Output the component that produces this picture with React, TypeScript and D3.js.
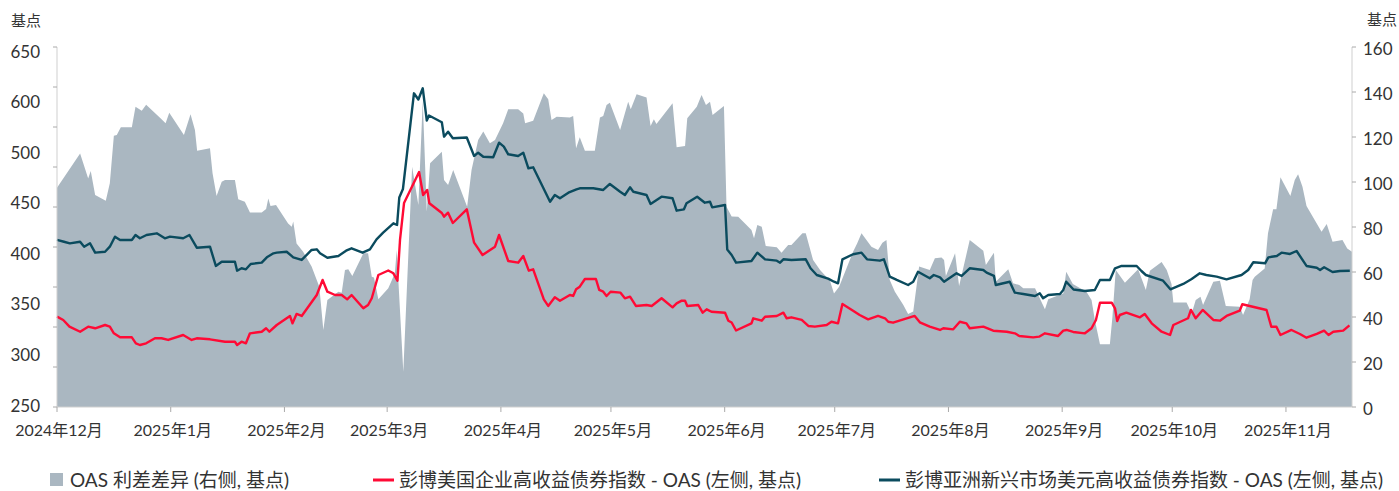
import { useEffect, useRef } from 'react';
import * as d3 from 'd3';

// day offset from 2024-12-01, value
// OAS spread difference (right axis, bp)
const spreadDiff: [number, number][] = [
  [0, 97.5], [6.3, 112.7], [7.6, 106.1], [8.5, 101.6], [9.2, 104.9], [10.4, 94.2], [13.3, 91.7], [14.4, 99.4],
  [15.5, 120.6], [16.3, 120.9], [17.4, 124.3], [20.4, 124.3], [21.4, 133.5], [23.1, 131.7], [24.3, 134.3],
  [28.5, 127.9], [29.6, 126.1], [30.6, 130.8], [34.6, 120.9], [36.4, 130.1], [37.6, 123.1], [38.2, 113.9],
  [41.7, 115], [42.4, 103.9], [43.5, 93.8], [44.9, 100.1], [45.8, 100.9], [48.5, 100.9], [49.4, 92.3],
  [51.2, 91.2], [52.6, 86.5], [55.8, 86.5], [57, 88], [57.6, 92.7], [58.2, 89.3], [59.7, 89.8], [63, 81.6],
  [64, 80.1], [64.4, 82.5], [65.3, 72.7], [67.1, 69], [69.4, 62.4], [71.5, 53.5], [72.6, 34.2], [73.7, 47.6],
  [76.7, 51.2], [77.6, 50.8], [78.5, 60.9], [79.4, 61.2], [80.5, 58.2], [83.5, 68.3], [84.8, 68.3], [85.8, 57.9],
  [86.4, 57.6], [87.6, 47.9], [90.3, 52.8], [92.1, 59.4], [92.6, 69.8], [94.4, 15.7], [96.8, 106.8], [98.5, 89.8],
  [99.7, 136], [100.8, 86.8], [101.7, 108.3], [104.9, 113.5], [105.5, 100.9], [106.6, 98.7], [108, 105.3],
  [111.8, 89], [113, 105.3], [114.8, 118.7], [116.2, 122.4], [118, 117.2], [119.4, 118.7], [121.6, 126.1],
  [123, 132.3], [125.7, 132.3], [127.1, 130.5], [127.6, 126.1], [129.8, 127.2], [132.7, 139.4], [133.9, 136.8],
  [134.8, 127.6], [136.2, 129], [139.8, 128.7], [140.7, 129.3], [141.5, 115], [142.5, 119.9], [143.9, 113.9],
  [146.6, 113.9], [148, 128.7], [148.9, 129.3], [149.8, 134.2], [150.7, 135.2], [153.5, 123.1], [155.7, 135.7],
  [156.4, 132.3], [158, 139], [160.7, 137.6], [161.8, 124.9], [162.7, 127.9], [163.4, 125.8], [167.8, 135],
  [168.9, 115.4], [171.2, 116], [171.8, 128.3], [174.4, 133.5], [175.7, 138.7], [176.9, 134.2], [178, 135.7],
  [178.7, 129.8], [181.8, 133.8], [182.5, 89], [183.9, 84.7], [185.7, 84.6], [189.3, 78.7], [190, 75],
  [190.9, 80.9], [192.1, 80.1], [193.2, 71.6], [196.2, 71], [197.5, 68.6], [199.3, 72], [200.2, 72],
  [203.2, 77.2], [204.1, 77.2], [206.1, 65.3], [208, 60.9], [210.7, 56.1], [211.8, 50.5], [213.2, 53.5],
  [217, 69], [218.1, 72.7], [219.3, 77.2], [222, 71.2], [223.8, 69.8], [225, 73], [226.1, 74.2], [227, 56.4],
  [228.4, 51.2], [230.7, 45.3], [232, 41.3], [233.4, 42.4], [235, 62.4], [237.9, 60.9], [239.3, 66.1],
  [241.1, 66.5], [241.8, 65.3], [242.3, 58.2], [244.8, 68.3], [245.9, 53.8], [248.8, 74.2], [252.5, 69.5],
  [253.2, 63.1], [255.4, 68.6], [255.9, 55.7], [259.3, 61.2], [260.6, 55], [262.3, 54.2], [263.4, 52.8],
  [266.6, 52.8], [269.3, 43.4], [270.2, 47.9], [274.3, 50.5], [275.1, 60.1], [276.9, 54.7], [280.6, 51.2],
  [282, 47.6], [282.9, 38.7], [284.3, 27.9], [287, 27.9], [287.7, 40.1], [288.6, 60.9], [291.1, 55.2],
  [294.7, 61.2], [296.8, 52], [297.9, 60.6], [301.1, 64.4], [302.5, 60.9], [303.8, 54.7], [304.3, 46.4],
  [307.9, 46.4], [309.3, 41.6], [310.4, 47.6], [311.7, 49], [312.4, 45.3], [315.2, 55.7], [317, 56.1],
  [317.9, 49.8], [318.6, 44.9], [322.4, 44.6], [323.3, 40.9], [325.1, 47.9], [325.9, 56.4], [326.5, 57.9],
  [329.2, 61.6], [330.1, 77.2], [331.5, 87.9], [332.4, 87.9], [333.5, 102.1], [336.2, 93.8], [337.4, 100.9],
  [338.3, 103.4], [339.5, 97.9], [340.6, 89.3], [344.7, 77.9], [346.1, 81.3], [347.7, 73.5], [350.4, 74.2],
  [351.7, 70.5], [353, 69],
];

// Bloomberg US corporate HY index OAS (left axis)
const usHyOas: [number, number][] = [
  [0, 362.9], [1.7, 358.8], [3.4, 350.4], [6.3, 344.1], [8.5, 350.4], [10.4, 348.4], [13.1, 352.5], [14.4, 350.4],
  [15.5, 342.1], [17.2, 337.1], [20.4, 337.1], [21.5, 329.6], [22.6, 327.5], [24.3, 329.6], [26.7, 335.9],
  [28.5, 335.9], [30.3, 333.8], [34.4, 340], [36.7, 333.8], [38.1, 335.9], [41.7, 334.6], [45.8, 331.6],
  [48.5, 331.6], [49.1, 327.5], [50.3, 331.6], [51.5, 329.6], [52.6, 342.1], [55.8, 344.1], [57, 348.4],
  [57.9, 344.1], [59.9, 352.5], [63.5, 363.8], [64.2, 354.6], [65.3, 366.3], [66.7, 363.8], [70.8, 390],
  [72.4, 408.8], [73.7, 394.1], [75.8, 390], [77.6, 390], [79.1, 384.6], [80.3, 390], [83.5, 373.4],
  [84.8, 377.5], [85.8, 385.9], [87.6, 415], [90.3, 420.6], [91.7, 417.1], [92.8, 407.9], [93.5, 458.8],
  [94.6, 505], [98.7, 543.8], [99.8, 515], [100.9, 521.3], [101.5, 504.6], [104.9, 492.5], [105.5, 487.9],
  [106.6, 492.9], [107.9, 480], [111.7, 497.1], [113.7, 455.4], [116, 440], [119.4, 450.4], [120.5, 465],
  [123, 432.5], [125.7, 430.4], [127.1, 438.8], [128.6, 420.4], [129.8, 422.1], [132.7, 384.6], [133.9, 376.3],
  [135.7, 387.1], [137.1, 382.9], [139.8, 390], [140.7, 388.8], [141.5, 397.1], [142.5, 400.4], [143.9, 410],
  [146.9, 410], [147.8, 396.3], [148.9, 394.1], [149.8, 388.8], [150.9, 394.1], [153.6, 392.9], [154.8, 385.9],
  [156.2, 387.9], [157.8, 376.3], [160.7, 377.5], [162.1, 376.3], [164.8, 385.9], [167.8, 374.6], [168.9, 379.6],
  [170.3, 382.9], [171.2, 382.9], [171.8, 376.3], [174.8, 377.5], [176, 367.9], [177.1, 372.1], [178.4, 369.1],
  [182.1, 367.9], [183, 357.9], [183.9, 355.6], [185.1, 345.6], [189.3, 354.6], [189.8, 360.9], [192.1, 357.9],
  [193, 362.9], [196.2, 363.8], [198, 367.9], [198.9, 360.9], [200.2, 362.1], [203, 358.8], [204.8, 351.3],
  [206.6, 350.4], [209.8, 352.5], [211.1, 356.6], [212.9, 354.6], [214.1, 378.8], [217, 370.4], [218.8, 365],
  [221.1, 359.6], [223.8, 363.8], [225.7, 360.9], [226.6, 356.6], [227.9, 355.4], [233.8, 363.8], [235.2, 355.9],
  [237.9, 350.4], [240.7, 346.3], [241.6, 348.4], [244.3, 347.1], [246.1, 356.6], [247.9, 354.6], [248.8, 348.4],
  [252.5, 350.4], [255.2, 345.4], [258.9, 344.1], [261.1, 342.1], [262.3, 338.8], [266.1, 337.1], [267.7, 337.9],
  [269.3, 342.1], [272.9, 338.8], [274.3, 345.4], [275.2, 346.3], [277, 343.8], [280.2, 342.1], [282, 348.4],
  [283.2, 358.8], [284.3, 380.4], [287.5, 380.4], [288.4, 373.4], [289, 357.5], [289.7, 365], [291.5, 367.9],
  [295.2, 362.1], [296.5, 366.3], [298.4, 354.6], [301.1, 344.1], [303.4, 340], [304.3, 352.5], [308.3, 360.9],
  [309.1, 371.3], [310.4, 360.9], [312.3, 371.3], [315.2, 358.8], [317, 357.9], [318.8, 363.8], [322.4, 370.4],
  [323.1, 378.4], [325.1, 376.3], [329.7, 371.3], [331, 350.4], [332.4, 350.4], [333.5, 340], [336.5, 346.3],
  [338.8, 341.3], [340.6, 336.6], [343.4, 341.3], [345.4, 345.4], [346.6, 340], [347.9, 344.1], [350.6, 345.4],
  [352.3, 352.1],
];

// Bloomberg Asia EM USD HY index OAS (left axis)
const asiaHyOas: [number, number][] = [
  [0, 458.8], [1.9, 456.6], [3.5, 454.6], [6.3, 456.6], [7.4, 450.4], [9, 454.6], [10.4, 442.9], [13.1, 444.1],
  [14.4, 450.4], [15.8, 462.9], [17.2, 458.8], [20.4, 458.8], [21.4, 465], [22.6, 460.9], [24.4, 465],
  [27.2, 467.1], [29.4, 460.9], [30.8, 462.9], [34.4, 460.9], [36.1, 465], [38.1, 449.1], [41.7, 450.4],
  [43.3, 426.3], [44.9, 431.6], [48.5, 431.6], [49.1, 420.4], [50.3, 423.4], [51.5, 422.1], [52.8, 428.8],
  [55.8, 430.4], [57.2, 437.1], [59, 442.1], [59.9, 442.9], [62.6, 444.1], [64.4, 437.1], [66.7, 433.8],
  [69.4, 446.3], [70.8, 447.1], [71.7, 442.1], [73.7, 436.6], [76.7, 438.8], [78.8, 445.4], [80.3, 448.4],
  [83.3, 442.9], [85.3, 447.1], [87.1, 459.6], [88.9, 467.9], [91.7, 479.6], [92.7, 477.5], [93.3, 511.9],
  [94.3, 522.5], [97.3, 642.1], [98.5, 634.4], [99.7, 648.4], [100.8, 608.1], [101.4, 614.4], [104.9, 606],
  [105.5, 587.9], [106.6, 594.1], [107.9, 585.9], [111.7, 586.9], [113.7, 563.8], [114.8, 567.9], [116.2, 562.9],
  [118.9, 562.1], [120.5, 580.4], [121.8, 575.4], [123, 565.9], [125.7, 563.8], [127.1, 567.9], [128.5, 548.4],
  [129.8, 549.6], [134.4, 506.6], [135.7, 515], [137.1, 510.9], [139.4, 517.9], [141.6, 522.1], [142.5, 523.4],
  [146.2, 523.4], [148.9, 521.3], [150.7, 528.8], [153.5, 519.1], [154.8, 515], [156.2, 524.6], [157.1, 519.1],
  [160.7, 515], [161.8, 503.8], [164.8, 512.9], [167.8, 510.9], [168.9, 495.4], [170.9, 497.1], [171.6, 504.6],
  [174.5, 512.9], [176.6, 505.4], [178, 506.6], [178.6, 499.6], [182.1, 502.5], [182.7, 446.9], [183.9, 440],
  [185.1, 430.4], [189.3, 432.5], [190.9, 442.9], [193, 434.6], [196.2, 432.9], [197.1, 430.4], [198, 434.6],
  [200.2, 433.8], [204.1, 434.6], [205.4, 423.4], [207.1, 415], [210.2, 410.4], [211.8, 406.6], [212.9, 404.6],
  [214.1, 434.6], [217, 440.9], [219.3, 442.9], [220.8, 434.6], [224.3, 432.9], [225.4, 434.6], [227, 412.9],
  [228.9, 408.8], [232, 402.5], [233.4, 406.6], [234.7, 419.1], [237.9, 410.9], [239, 415], [240.7, 412.1],
  [241.8, 406.6], [245.2, 417.1], [246.6, 413.8], [248.8, 423.4], [252.5, 421.3], [253.4, 417.9], [255.4, 413.8],
  [255.9, 402.5], [259.7, 406.6], [261.1, 392.9], [263.4, 391.3], [266.6, 388.8], [267.9, 392.1], [268.8, 385.9],
  [270.2, 390], [273.4, 391.3], [274.3, 396.3], [275.1, 406.6], [277.1, 396.9], [280.2, 395], [282.9, 396.3],
  [284.3, 408.8], [287, 408.8], [288.4, 423.4], [290.2, 426.3], [294.3, 426.3], [295.6, 420], [296.8, 415],
  [301.5, 407.9], [303.5, 397.1], [307, 403.8], [309.3, 410], [311.5, 417.1], [313.3, 415], [316.1, 412.9],
  [318.8, 409.6], [322.9, 415], [324.7, 421.3], [326.1, 430.9], [329.3, 429.6], [330.2, 437.1], [332.5, 438.8],
  [333.8, 442.9], [336.1, 441.3], [337.9, 445], [340.6, 426.3], [343.4, 424.1], [344.3, 421.3], [345.4, 424.6],
  [347.7, 418.8], [349.7, 420], [352.4, 420.4],
];

// left axis labels as printed on the source chart
const leftLabels = ['650', '600', '500', '450', '400', '350', '300', '250'];
const axisUnit = '基点';
const legendItems = [
  { label: 'OAS 利差差异 (右侧, 基点)', kind: 'area' },
  { label: '彭博美国企业高收益债券指数 - OAS (左侧, 基点)', kind: 'us' },
  { label: '彭博亚洲新兴市场美元高收益债券指数 - OAS (左侧, 基点)', kind: 'asia' },
];

const start = new Date(2024, 11, 1);
const end = new Date(2025, 10, 19);
const toDate = (d: number) => new Date(start.getTime() + d * 864e5);

const FONT = "Lato, 'Noto Sans CJK SC', sans-serif";
const AREA_COLOR = '#aab7c1';
const US_COLOR = '#ff0a35';
const ASIA_COLOR = '#0b4b5e';
const AXIS_COLOR = '#cfcfcf';
const TEXT_COLOR = '#333';

const App = () => {
  const ref = useRef<SVGSVGElement | null>(null);

  useEffect(() => {
    const width = 1399;
    const height = 491;
    const margin = { top: 47, right: 47, bottom: 84, left: 57 };
    const innerBottom = height - margin.bottom;

    const svg = d3.select(ref.current);
    svg.selectAll('*').remove();

    const x = d3.scaleTime().domain([start, end]).range([margin.left, width - margin.right]);
    const yLeft = d3.scaleLinear().domain([250, 700]).range([innerBottom, margin.top]);
    const yRight = d3.scaleLinear().domain([0, 160]).range([innerBottom, margin.top]);

    // 面积：利差差异
    const area = d3.area<[number, number]>()
      .x(d => x(toDate(d[0])))
      .y0(yRight(0))
      .y1(d => yRight(d[1]));
    svg.append('path').datum(spreadDiff).attr('fill', AREA_COLOR).attr('d', area);

    // 折线
    const line = d3.line<[number, number]>()
      .x(d => x(toDate(d[0])))
      .y(d => yLeft(d[1]));
    svg.append('path').datum(usHyOas)
      .attr('fill', 'none').attr('stroke', US_COLOR).attr('stroke-width', 2.4)
      .attr('stroke-linejoin', 'round').attr('d', line);
    svg.append('path').datum(asiaHyOas)
      .attr('fill', 'none').attr('stroke', ASIA_COLOR).attr('stroke-width', 2.4)
      .attr('stroke-linejoin', 'round').attr('d', line);

    // 左轴
    const left = svg.append('g');
    left.append('line')
      .attr('x1', margin.left).attr('x2', margin.left)
      .attr('y1', margin.top).attr('y2', innerBottom)
      .attr('stroke', AXIS_COLOR);
    left.selectAll('line.tick').data(yLeft.ticks(10)).join('line')
      .attr('class', 'tick')
      .attr('x1', margin.left - 4).attr('x2', margin.left)
      .attr('y1', d => yLeft(d)).attr('y2', d => yLeft(d))
      .attr('stroke', '#aaa');
    const labelPos = d3.scalePoint<string>().domain(leftLabels).range([51.5, 405.5]);
    left.selectAll('text').data(leftLabels).join('text')
      .attr('x', 40).attr('y', d => labelPos(d) as number).attr('dy', '0.36em')
      .attr('text-anchor', 'end')
      .attr('font-size', 17).attr('font-family', FONT).attr('fill', TEXT_COLOR)
      .text(d => d);

    // 右轴
    const rx = width - margin.right;
    const right = svg.append('g');
    right.append('line')
      .attr('x1', rx).attr('x2', rx)
      .attr('y1', margin.top).attr('y2', innerBottom)
      .attr('stroke', AXIS_COLOR);
    right.selectAll('line.tick').data(yRight.ticks(8)).join('line')
      .attr('class', 'tick')
      .attr('x1', rx).attr('x2', rx + 4)
      .attr('y1', d => yRight(d)).attr('y2', d => yRight(d))
      .attr('stroke', '#aaa');
    right.selectAll('text').data(yRight.ticks(8)).join('text')
      .attr('x', rx + 11).attr('y', d => yRight(d) + 2).attr('dy', '0.36em')
      .attr('font-size', 17).attr('font-family', FONT).attr('fill', TEXT_COLOR)
      .text(d => d);

    // 单位
    svg.append('text').attr('x', 11).attr('y', 21).attr('dy', '0.36em')
      .attr('font-size', 15).attr('font-family', FONT).attr('fill', TEXT_COLOR).text(axisUnit);
    svg.append('text').attr('x', 1367).attr('y', 20).attr('dy', '0.36em')
      .attr('font-size', 15).attr('font-family', FONT).attr('fill', TEXT_COLOR).text(axisUnit);

    // X轴
    const months = d3.timeMonth.range(start, end);
    const bottom = svg.append('g');
    bottom.append('line')
      .attr('x1', margin.left).attr('x2', rx)
      .attr('y1', innerBottom).attr('y2', innerBottom)
      .attr('stroke', AXIS_COLOR);
    bottom.selectAll('line.tick').data(months).join('line')
      .attr('class', 'tick')
      .attr('x1', d => x(d)).attr('x2', d => x(d))
      .attr('y1', innerBottom).attr('y2', innerBottom + 5)
      .attr('stroke', '#aaa');
    bottom.selectAll('text').data(months).join('text')
      .attr('x', d => x(d) + 2).attr('y', 430).attr('dy', '0.36em')
      .attr('text-anchor', 'middle')
      .attr('font-size', 16).attr('font-family', FONT).attr('fill', TEXT_COLOR)
      .text(d => `${d.getFullYear()}年${d.getMonth() + 1}月`);

    // 图例
    const legendX = [50, 373, 879];
    const ly = 480;
    const legend = svg.append('g');
    legendItems.forEach((item, i) => {
      const g = legend.append('g').attr('transform', `translate(${legendX[i]},${ly})`);
      let textX = 20;
      if (item.kind === 'area') {
        g.append('rect').attr('x', 0).attr('y', -7).attr('width', 13).attr('height', 13).attr('fill', AREA_COLOR);
      } else {
        g.append('line').attr('x1', 0).attr('x2', 21).attr('y1', 0).attr('y2', 0)
          .attr('stroke', item.kind === 'us' ? US_COLOR : ASIA_COLOR).attr('stroke-width', 3);
        textX = 26;
      }
      g.append('text').attr('x', textX).attr('y', 0).attr('dy', '0.36em')
        .attr('font-size', 19).attr('font-family', FONT).attr('fill', TEXT_COLOR)
        .text(item.label);
    });
  }, []);

  return (
    <svg ref={ref} width={1399} height={491}
      style={{ position: 'absolute', left: 0, top: 0, background: '#fff' }} />
  );
};

export default App;
